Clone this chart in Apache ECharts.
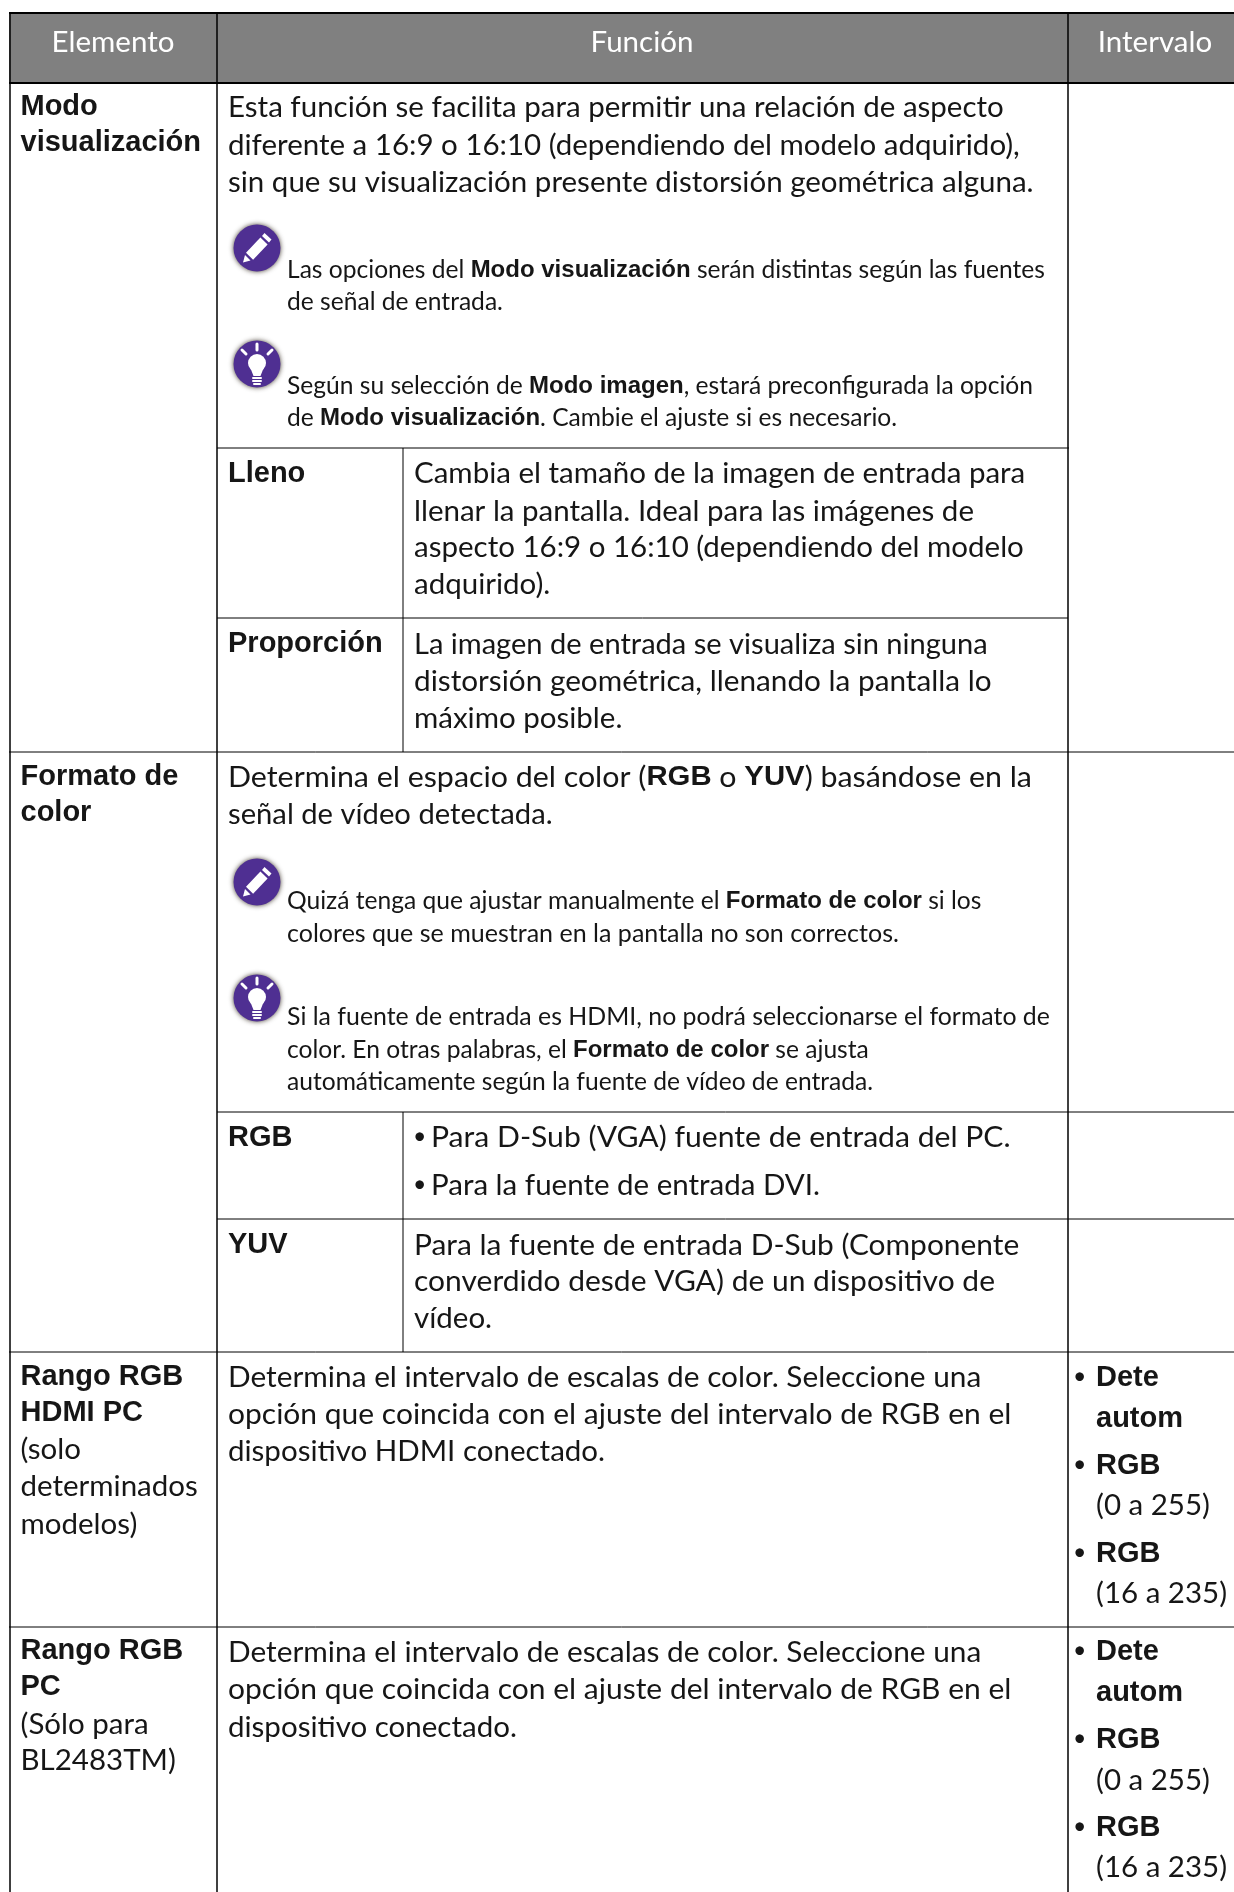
<!DOCTYPE html>
<html lang="es">
<head>
    <meta charset="UTF-8">
    <title>Modo visualización</title>
    <script src="https://cdn.jsdelivr.net/npm/echarts@6/dist/echarts.min.js"></script>
    <style>html,body{margin:0;padding:0;background:#fff}</style>
</head>
<body>
    <div id="main" style="width:1234px;height:1892px;"></div>
    <script type="text/javascript">
        // text of the table, {b|..} = bold run, {n|..} = normal run
        var headers = ['Elemento', 'Función', 'Intervalo'];
        var itemModo = ['Modo', 'visualización'];
        var funcModo = ['Esta función se facilita para permitir una relación de aspecto',
            'diferente a 16:9 o 16:10 (dependiendo del modelo adquirido),',
            'sin que su visualización presente distorsión geométrica alguna.'];
        var noteModo = ['{n|Las opciones del }{b|Modo visualización}{n| serán distintas según las fuentes}',
            'de señal de entrada.'];
        var tipModo = ['{n|Según su selección de }{b|Modo imagen}{n|, estará preconfigurada la opción}',
            '{n|de }{b|Modo visualización}{n|. Cambie el ajuste si es necesario.}'];
        var funcLleno = ['Cambia el tamaño de la imagen de entrada para',
            'llenar la pantalla. Ideal para las imágenes de',
            'aspecto 16:9 o 16:10 (dependiendo del modelo',
            'adquirido).'];
        var funcProporcion = ['La imagen de entrada se visualiza sin ninguna',
            'distorsión geométrica, llenando la pantalla lo',
            'máximo posible.'];
        var itemFormato = ['Formato de', 'color'];
        var funcFormato = ['{n|Determina el espacio del color (}{h|RGB}{n| o }{h|YUV}{n|) basándose en la}',
            'señal de vídeo detectada.'];
        var noteFormato = ['{n|Quizá tenga que ajustar manualmente el }{b|Formato de color}{n| si los}',
            'colores que se muestran en la pantalla no son correctos.'];
        var tipFormato = ['Si la fuente de entrada es HDMI, no podrá seleccionarse el formato de',
            '{n|color. En otras palabras, el }{b|Formato de color}{n| se ajusta}',
            'automáticamente según la fuente de vídeo de entrada.'];
        var funcRgb = ['Para D-Sub (VGA) fuente de entrada del PC.', 'Para la fuente de entrada DVI.'];
        var funcYuv = ['Para la fuente de entrada D-Sub (Componente',
            'converdido desde VGA) de un dispositivo de',
            'vídeo.'];
        var itemHdmi = ['Rango RGB', 'HDMI PC'];
        var itemHdmiNote = ['(solo', 'determinados', 'modelos)'];
        var funcHdmi = ['Determina el intervalo de escalas de color. Seleccione una',
            'opción que coincida con el ajuste del intervalo de RGB en el',
            'dispositivo HDMI conectado.'];
        var itemPc = ['Rango RGB', 'PC'];
        var itemPcNote = ['(Sólo para', 'BL2483TM)'];
        var funcPc = ['Determina el intervalo de escalas de color. Seleccione una',
            'opción que coincida con el ajuste del intervalo de RGB en el',
            'dispositivo conectado.'];
        var rangeBold = ['Dete', 'autom', 'RGB', 'RGB'];
        var rangeNormal = ['(0 a 255)', '(16 a 235)'];

        var BODY = 'Lato';
        var BOLD = '"Liberation Sans"';
        var INK = '#161616';
        var BODY_SIZE = 29.5, NOTE_SIZE = 24.6;

        var styles = {
            head: {font: '29.5px ' + BODY, fill: '#fff', align: 'center', dy: 0.5},
            body: {font: BODY_SIZE + 'px ' + BODY, fill: INK, dy: 0},
            note: {font: NOTE_SIZE + 'px ' + BODY, fill: INK, dy: 0.5},
            bold: {font: 'bold 29px ' + BOLD, fill: INK, dy: 1},
            dot: {font: '23px ' + BODY, fill: INK, dy: 0}
        };
        var rich = {
            body: {n: {font: BODY_SIZE + 'px ' + BODY, fill: INK}, h: {font: 'bold 28.5px ' + BOLD, fill: INK}},
            note: {n: {font: NOTE_SIZE + 'px ' + BODY, fill: INK}, b: {font: 'bold 24px ' + BOLD, fill: INK}}
        };

        // Lato and the original face differ a little, these lines get stretched to end in the same place
        var stretch = {};
        stretch[funcFormato[0]] = 1.029;
        stretch[funcRgb[0]] = 1.021;
        stretch[funcHdmi[0]] = 1.011;
        stretch[funcHdmi[1]] = 1.017;
        stretch[tipFormato[0]] = 1.011;
        stretch[noteFormato[1]] = 1.018;
        stretch[funcFormato[1]] = 0.99;
        stretch[funcProporcion[0]] = 0.985;
        stretch[funcProporcion[1]] = 1.008;
        stretch[funcYuv[0]] = 1.014;
        stretch[funcYuv[1]] = 1.017;

        // layout, in pixels of the page (the axes below run 0-1234 and 0-1892)
        var texts = [];
        function put(lines, x, ys, style) {
            lines.forEach(function (t, i) { texts.push([x, ys[i], t, style]); });
        }
        var C0 = 20.5, C1 = 228, C2 = 414, C3 = 1096;

        texts.push([113, 42, headers[0], 'head'], [642, 42, headers[1], 'head'], [1155, 42, headers[2], 'head']);

        put(itemModo, C0, [106, 142], 'bold');
        put(funcModo, C1, [107, 145, 182], 'body');
        put(noteModo, 287, [270, 302], 'note');
        put(tipModo, 287, [386, 418], 'note');
        put(['Lleno'], C1, [473], 'bold');
        put(funcLleno, C2, [473, 511, 547, 584], 'body');
        put(['Proporción'], C1, [643], 'bold');
        put(funcProporcion, C2, [644, 681, 718], 'body');

        put(itemFormato, C0, [776, 812], 'bold');
        put(funcFormato, C1, [777, 814], 'body');
        put(noteFormato, 287, [901, 934], 'note');
        put(tipFormato, 287, [1017, 1050, 1082], 'note');
        put(['RGB'], C1, [1137], 'bold');
        put(funcRgb, 431, [1137, 1185], 'body');
        put(['•', '•'], 413, [1137, 1185], 'dot');
        put(['YUV'], C1, [1244], 'bold');
        put(funcYuv, C2, [1245, 1281, 1318], 'body');

        put(itemHdmi, C0, [1376, 1412], 'bold');
        put(itemHdmiNote, C0, [1449, 1486, 1524], 'body');
        put(funcHdmi, C1, [1377, 1414, 1451], 'body');
        put(['•', '•', '•'], 1073, [1377, 1465, 1553], 'dot');
        put(rangeBold, C3, [1377, 1418, 1465, 1553], 'bold');
        put(rangeNormal, C3, [1505, 1593], 'body');

        put(itemPc, C0, [1650, 1686], 'bold');
        put(itemPcNote, C0, [1724, 1760], 'body');
        put(funcPc, C1, [1652, 1689, 1727], 'body');
        put(['•', '•', '•'], 1073, [1651, 1739, 1827], 'dot');
        put(rangeBold, C3, [1651, 1692, 1739, 1827], 'bold');
        put(rangeNormal, C3, [1780, 1867], 'body');

        // x1, y1, x2, y2, width
        var rules = [
            [9, 13, 1234, 13, 2], [9, 83, 1234, 83, 2],
            [10, 13, 10, 1892, 1.5], [217, 13, 217, 1892, 1.5], [1068, 13, 1068, 1892, 1.5],
            [217, 448, 1069, 448, 1], [217, 618, 1068, 618, 1], [403, 448, 403, 752, 1],
            [9, 752, 1234, 752, 1], [217, 1112, 1234, 1112, 1], [217, 1219, 1234, 1219, 1],
            [403, 1112, 403, 1352, 1], [9, 1352, 1234, 1352, 1], [9, 1627, 1234, 1627, 1]
        ];
        // icon centres: kind, x, y
        var icons = [['note', 257, 248], ['tip', 257, 364], ['note', 257, 882], ['tip', 257, 998]];

        function poly(points) {
            return {type: 'polygon', shape: {points: points}, style: {fill: '#fff'}};
        }
        function ray(x1, y1, x2, y2, w) {
            return {type: 'line', shape: {x1: x1, y1: y1, x2: x2, y2: y2}, style: {stroke: '#fff', lineWidth: w, lineCap: 'round'}};
        }
        function iconParts(kind) {
            var parts = [{type: 'circle', shape: {cx: 0, cy: 0, r: 23.5},
                style: {fill: '#4f2f92', shadowBlur: 5, shadowColor: 'rgba(40,30,20,0.85)'}}];
            if (kind === 'note') {
                parts.push(poly([[-11, 4.8], [3.4, -10.5], [10.6, -3.5], [-3.9, 11.8]]));
                parts.push(poly([[5, -12], [7.5, -15], [14.5, -8.5], [12, -5.5]]));
                parts.push(poly([[-12, 7], [-6.5, 12.5], [-14, 14.5]]));
            } else {
                parts.push({type: 'circle', shape: {cx: 0, cy: -1, r: 9}, style: {fill: '#fff'}});
                parts.push(poly([[-7, 3], [7, 3], [3.5, 12], [-3.5, 12]]));
                parts.push(ray(-4, 14, 4, 14, 2), ray(-4, 17, 4, 17, 2), ray(-3, 20, 3, 20, 2));
                parts.push(ray(0, -20, 0, -14, 3), ray(-15, -14, -11, -10, 3), ray(15, -14, 11, -10, 3));
            }
            return parts;
        }

        var myChart = echarts.init(document.getElementById('main'));
        var option = {
            animation: false,
            backgroundColor: '#fff',
            grid: {left: 0, right: 0, top: 0, bottom: 0},
            xAxis: {type: 'value', min: 0, max: 1234, show: false},
            yAxis: {type: 'value', min: 0, max: 1892, inverse: true, show: false},
            series: [
                {   // header band
                    type: 'custom', silent: true, coordinateSystem: 'cartesian2d', data: [[9, 13, 1234, 83]],
                    renderItem: function (params, api) {
                        var a = api.coord([api.value(0), api.value(1)]);
                        var b = api.coord([api.value(2), api.value(3)]);
                        return {type: 'rect', shape: {x: a[0], y: a[1], width: b[0] - a[0], height: b[1] - a[1]}, style: {fill: '#808080'}};
                    }
                },
                {   // table rules
                    type: 'custom', silent: true, coordinateSystem: 'cartesian2d', data: rules,
                    renderItem: function (params, api) {
                        var a = api.coord([api.value(0), api.value(1)]);
                        var b = api.coord([api.value(2), api.value(3)]);
                        return {type: 'line', shape: {x1: a[0], y1: a[1], x2: b[0], y2: b[1]},
                            style: {stroke: '#000', lineWidth: api.value(4)}};
                    }
                },
                {   // note and tip icons
                    type: 'custom', silent: true, coordinateSystem: 'cartesian2d',
                    data: icons.map(function (d) { return [d[1], d[2]]; }),
                    renderItem: function (params, api) {
                        var c = api.coord([api.value(0), api.value(1)]);
                        return {type: 'group', x: c[0], y: c[1], children: iconParts(icons[params.dataIndex][0])};
                    }
                },
                {   // every text line
                    type: 'custom', silent: true, coordinateSystem: 'cartesian2d',
                    data: texts.map(function (d) { return [d[0], d[1]]; }),
                    renderItem: function (params, api) {
                        var t = texts[params.dataIndex];
                        var c = api.coord([api.value(0), api.value(1)]);
                        var s = styles[t[3]];
                        var isRich = t[2].indexOf('|') > 0;
                        return {type: 'text', x: c[0], y: c[1] + s.dy, scaleX: stretch[t[2]] || 1, style: {
                            text: t[2], font: s.font, fill: s.fill, align: s.align || 'left', verticalAlign: 'middle',
                            rich: isRich ? rich[t[3]] : undefined
                        }};
                    }
                }
            ]
        };
        myChart.setOption(option);
    </script>
</body>
</html>
